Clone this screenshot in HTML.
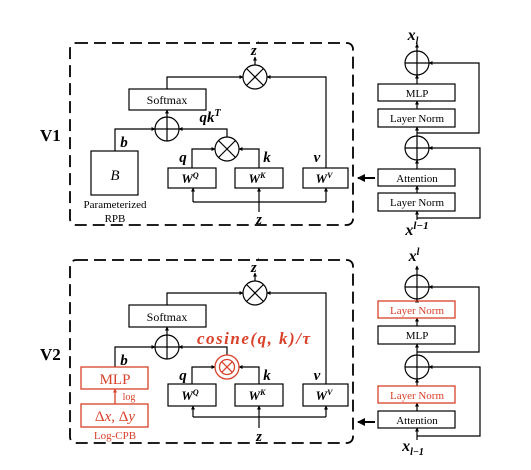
<!DOCTYPE html>
<html><head><style>html,body{margin:0;padding:0;background:#fff}svg{display:block}</style></head><body>
<svg width="531" height="470" viewBox="0 0 531 470" xmlns="http://www.w3.org/2000/svg" font-family="Liberation Serif, serif">
<defs>
<marker id="a" markerWidth="4" markerHeight="4" refX="3.5" refY="2" orient="auto" markerUnits="userSpaceOnUse"><path d="M0,0L4,2L0,4z" fill="#000"/></marker>
<marker id="ar" markerWidth="4" markerHeight="4" refX="3.5" refY="2" orient="auto" markerUnits="userSpaceOnUse"><path d="M0,0L4,2L0,4z" fill="#d9412a"/></marker>
<marker id="big" markerWidth="8" markerHeight="8" refX="7" refY="4" orient="auto" markerUnits="userSpaceOnUse"><path d="M0,0L8,4L0,8z" fill="#000"/></marker>
</defs>
<g fill="none" stroke="#000" stroke-width="1.4">
<rect x="70" y="43" width="283" height="182" rx="6" stroke-width="1.8" stroke-dasharray="12,6"/>
<rect x="70" y="260" width="283" height="183" rx="6" stroke-width="1.8" stroke-dasharray="12,6"/>
</g>
<text x="40" y="141" font-size="17" font-weight="bold">V1</text>
<text x="40" y="360" font-size="17" font-weight="bold">V2</text>

<!-- V1 -->
<g fill="none" stroke="#000" stroke-width="1.2">
<circle cx="255" cy="77" r="12"/><path d="M246.5,68.5L263.5,85.5M263.5,68.5L246.5,85.5"/>
<rect x="129" y="89" width="77" height="21"/>
<circle cx="167" cy="129" r="12"/><path d="M155,129H179M167,117V141"/>
<rect x="91" y="151" width="47" height="44"/>
<circle cx="227" cy="149" r="12"/><path d="M218.5,140.5L235.5,157.5M235.5,140.5L218.5,157.5"/>
<rect x="168" y="168" width="48" height="20"/>
<rect x="235" y="168" width="48" height="20"/>
<rect x="303" y="168" width="45" height="20"/>
<path d="M255,65V57" marker-end="url(#a)"/>
<path d="M167,89V77H243" marker-end="url(#a)"/>
<path d="M326,168V77H267" marker-end="url(#a)"/>
<path d="M167,117V110" marker-end="url(#a)"/>
<path d="M115,151V129H155" marker-end="url(#a)"/>
<path d="M227,137V129H179" marker-end="url(#a)"/>
<path d="M192,168V149H215" marker-end="url(#a)"/>
<path d="M259,168V149H239" marker-end="url(#a)"/>
<path d="M259,212V202"/>
<path d="M193,202H326"/>
<path d="M193,202V188" marker-end="url(#a)"/><path d="M259,202V188" marker-end="url(#a)"/><path d="M326,202V188" marker-end="url(#a)"/>
</g>
<g font-size="12" text-anchor="middle">
<text x="167" y="104">Softmax</text>
<text x="115" y="180" font-size="15" font-style="italic">B</text>
<text x="115" y="208" font-size="11">Parameterized</text>
<text x="115" y="222" font-size="11">RPB</text>
</g>
<g font-weight="bold" font-style="italic" font-size="15" text-anchor="middle">
<text x="255" y="55">z<tspan font-size="9" dy="-7">'</tspan></text>
<text x="210" y="122">qk<tspan font-size="10" dy="-6">T</tspan></text>
<text x="124" y="147">b</text>
<text x="183" y="162">q</text><text x="267" y="162">k</text><text x="317" y="162">v</text>
<text x="190" y="183" font-size="13">W<tspan font-size="8" dy="-5">Q</tspan></text>
<text x="257" y="183" font-size="13">W<tspan font-size="8" dy="-5">K</tspan></text>
<text x="324" y="183" font-size="13">W<tspan font-size="8" dy="-5">V</tspan></text>
<text x="259" y="224">z</text>
</g>

<!-- V2 -->
<g fill="none" stroke="#000" stroke-width="1.2">
<circle cx="255" cy="293" r="12"/><path d="M246.5,284.5L263.5,301.5M263.5,284.5L246.5,301.5"/>
<rect x="129" y="305" width="77" height="22"/>
<circle cx="167" cy="347" r="12"/><path d="M155,347H179M167,335V359"/>
<rect x="168" y="384" width="48" height="22"/>
<rect x="235" y="384" width="48" height="22"/>
<rect x="303" y="384" width="45" height="22"/>
<path d="M255,281V273" marker-end="url(#a)"/>
<path d="M167,305V293H243" marker-end="url(#a)"/>
<path d="M326,384V293H267" marker-end="url(#a)"/>
<path d="M167,335V327" marker-end="url(#a)"/>
<path d="M115,367V347H155" marker-end="url(#a)"/>
<path d="M227,355V347H179" marker-end="url(#a)"/>
<path d="M192,384V367H215" marker-end="url(#a)"/>
<path d="M259,384V367H239" marker-end="url(#a)"/>
<path d="M259,428V417"/>
<path d="M193,417H326"/>
<path d="M193,417V406" marker-end="url(#a)"/><path d="M259,417V406" marker-end="url(#a)"/><path d="M326,417V406" marker-end="url(#a)"/>
</g>
<g fill="none" stroke="#d9412a" stroke-width="1.3">
<circle cx="227" cy="367" r="12"/><circle cx="227" cy="367" r="7.5"/><path d="M221.7,361.7L232.3,372.3M232.3,361.7L221.7,372.3"/>
<rect x="81" y="367" width="67" height="22"/>
<rect x="81" y="404" width="67" height="23"/>
<path d="M115,404V389" marker-end="url(#ar)"/>
</g>
<g text-anchor="middle">
<text x="167" y="321" font-size="12">Softmax</text>
<text x="115" y="384" font-size="15" fill="#d9412a">MLP</text>
<text x="129" y="400" font-size="10" fill="#d9412a">log</text>
<text x="115" y="421" font-size="15" fill="#d9412a">Δ<tspan font-style="italic">x</tspan>, Δ<tspan font-style="italic">y</tspan></text>
<text x="115" y="439" font-size="11" fill="#d9412a">Log-CPB</text>
</g>
<g font-weight="bold" font-style="italic" font-size="15" text-anchor="middle">
<text x="255" y="272">z<tspan font-size="9" dy="-7">'</tspan></text>
<text x="197" y="344" text-anchor="start" fill="#d9412a" font-size="17" textLength="113" lengthAdjust="spacing">cosine(q, k)/τ</text>
<text x="124" y="365">b</text>
<text x="183" y="380">q</text><text x="267" y="380">k</text><text x="317" y="380">v</text>
<text x="190" y="400" font-size="13">W<tspan font-size="8" dy="-5">Q</tspan></text>
<text x="257" y="400" font-size="13">W<tspan font-size="8" dy="-5">K</tspan></text>
<text x="324" y="400" font-size="13">W<tspan font-size="8" dy="-5">V</tspan></text>
<text x="259" y="441">z</text>
</g>

<!-- Right V1 -->
<g fill="none" stroke="#000" stroke-width="1.2">
<circle cx="417" cy="63" r="12"/><path d="M405,63H429M417,51V75"/>
<rect x="378" y="84" width="77" height="17"/>
<rect x="378" y="109" width="77" height="18"/>
<circle cx="417" cy="148" r="12"/><path d="M405,148H429M417,136V160"/>
<rect x="378" y="169" width="77" height="17"/>
<rect x="378" y="193" width="77" height="18"/>
<path d="M417,51V44" marker-end="url(#a)"/>
<path d="M417,84V75" marker-end="url(#a)"/>
<path d="M417,109V101" marker-end="url(#a)"/>
<path d="M417,136V127" marker-end="url(#a)"/>
<path d="M417,169V160" marker-end="url(#a)"/>
<path d="M417,193V186" marker-end="url(#a)"/>
<path d="M417,220V211" marker-end="url(#a)"/>
<path d="M417,133H479V63H429" marker-end="url(#a)"/>
<path d="M417,218H480V148H429" marker-end="url(#a)"/>
<path d="M375,178H358" stroke-width="2" marker-end="url(#big)"/>
</g>
<g font-size="11" text-anchor="middle">
<text x="417" y="97">MLP</text><text x="417" y="122">Layer Norm</text>
<text x="417" y="182">Attention</text><text x="417" y="206">Layer Norm</text>
</g>
<g font-weight="bold" font-style="italic" font-size="16" text-anchor="middle">
<text x="413" y="40">x<tspan font-size="10" dy="4">l</tspan></text>
<text x="417" y="235">x<tspan font-size="11" dy="-6">l−1</tspan></text>
</g>

<!-- Right V2 -->
<g fill="none" stroke="#000" stroke-width="1.2">
<circle cx="417" cy="287" r="12"/><path d="M405,287H429M417,275V299"/>
<rect x="378" y="326" width="77" height="18"/>
<circle cx="417" cy="367" r="12"/><path d="M405,367H429M417,355V379"/>
<rect x="378" y="411" width="77" height="17"/>
<path d="M417,275V266" marker-end="url(#a)"/>
<path d="M417,301V299" marker-end="url(#a)"/>
<path d="M417,326V318" marker-end="url(#a)"/>
<path d="M417,355V344" marker-end="url(#a)"/>
<path d="M417,386V379" marker-end="url(#a)"/>
<path d="M417,411V403" marker-end="url(#a)"/>
<path d="M417,440V428" marker-end="url(#a)"/>
<path d="M417,352H479V287H429" marker-end="url(#a)"/>
<path d="M417,436H480V367H429" marker-end="url(#a)"/>
<path d="M375,422H358" stroke-width="2" marker-end="url(#big)"/>
</g>
<g fill="none" stroke="#d9412a" stroke-width="1.3">
<rect x="378" y="301" width="77" height="17"/>
<rect x="378" y="386" width="77" height="17"/>
</g>
<g font-size="11" text-anchor="middle">
<text x="417" y="314" fill="#d9412a">Layer Norm</text><text x="417" y="339">MLP</text>
<text x="417" y="399" fill="#d9412a">Layer Norm</text><text x="417" y="424">Attention</text>
</g>
<g font-weight="bold" font-style="italic" font-size="16" text-anchor="middle">
<text x="414" y="261">x<tspan font-size="10" dy="-6">l</tspan></text>
<text x="413" y="451">x<tspan font-size="10" dy="4">l−1</tspan></text>
</g>
</svg>
</body></html>
